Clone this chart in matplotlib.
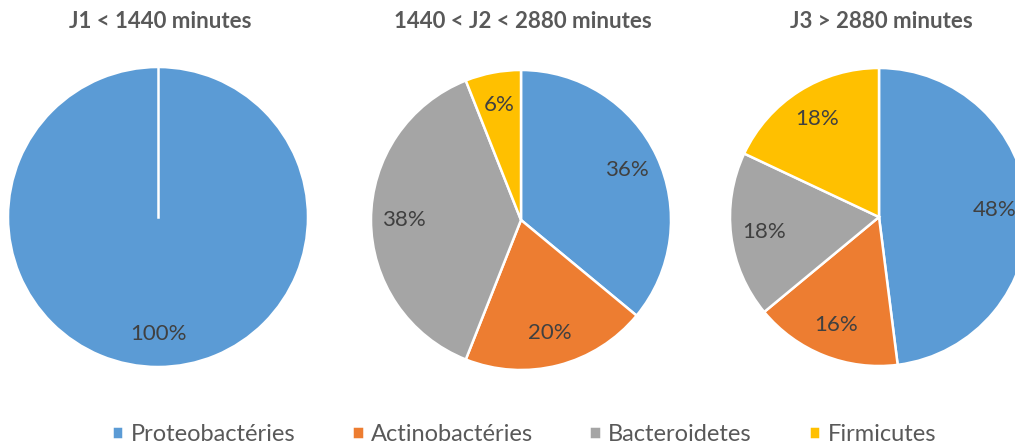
import numpy as np
import matplotlib
matplotlib.use("Agg")
import matplotlib.pyplot as plt

plt.rcParams['font.family'] = ['Lato', 'DejaVu Sans']

categories = ["Proteobactéries", "Actinobactéries", "Bacteroidetes", "Firmicutes"]
colors = ["#5B9BD5", "#ED7D31", "#A5A5A5", "#FFC000"]

titles = ["J1 < 1440 minutes", "1440 < J2 < 2880 minutes", "J3 > 2880 minutes"]
j1 = [100, 0, 0, 0]
j2 = [36, 20, 38, 6]
j3 = [48, 16, 18, 18]

W, H = 1015, 445
fig = plt.figure(figsize=(W / 100, H / 100), dpi=100)

# pie centres and radius in pixels
centres = [(158, 217), (521, 220), (879, 217)]
radii = [150, 150, 149]

legend_handles = None
for vals, title, (cx, cy), r in zip([j1, j2, j3], titles, centres, radii):
    ax = fig.add_axes([(cx - r) / W, (H - cy - r) / H, 2 * r / W, 2 * r / H])
    keep = [i for i, v in enumerate(vals) if v > 0]
    wedges, texts = ax.pie([vals[i] for i in keep],
                           colors=[colors[i] for i in keep],
                           labels=["%d%%" % vals[i] for i in keep],
                           startangle=90, counterclock=False,
                           labeldistance=0.78, radius=1,
                           wedgeprops=dict(edgecolor="white", linewidth=1.8),
                           textprops=dict(fontsize=16, color="#404040",
                                          ha="center", va="center"))
    if len(keep) == 1:
        # a single full slice still shows its border line in the original
        a = np.deg2rad(wedges[0].theta1)
        ax.plot([0, np.cos(a)], [0, np.sin(a)], color="white", lw=1.8)
    ax.set_xlim(-1, 1)
    ax.set_ylim(-1, 1)
    ax.set_aspect("auto")
    ax.axis("off")
    fig.text(cx / W + 0.002, 1 - 22 / H, title, ha="center", va="center",
             fontsize=16, fontweight="bold", color="#595959")
    if len(keep) == 4:
        legend_handles = wedges

fig.legend(legend_handles, categories, loc="center", ncol=4,
           bbox_to_anchor=(0.516, 0.024), frameon=False,
           fontsize=17, labelcolor="#595959",
           handlelength=0.5, handleheight=0.5, handletextpad=0.3,
           columnspacing=2.4)

fig.savefig("out.png", dpi=100)
